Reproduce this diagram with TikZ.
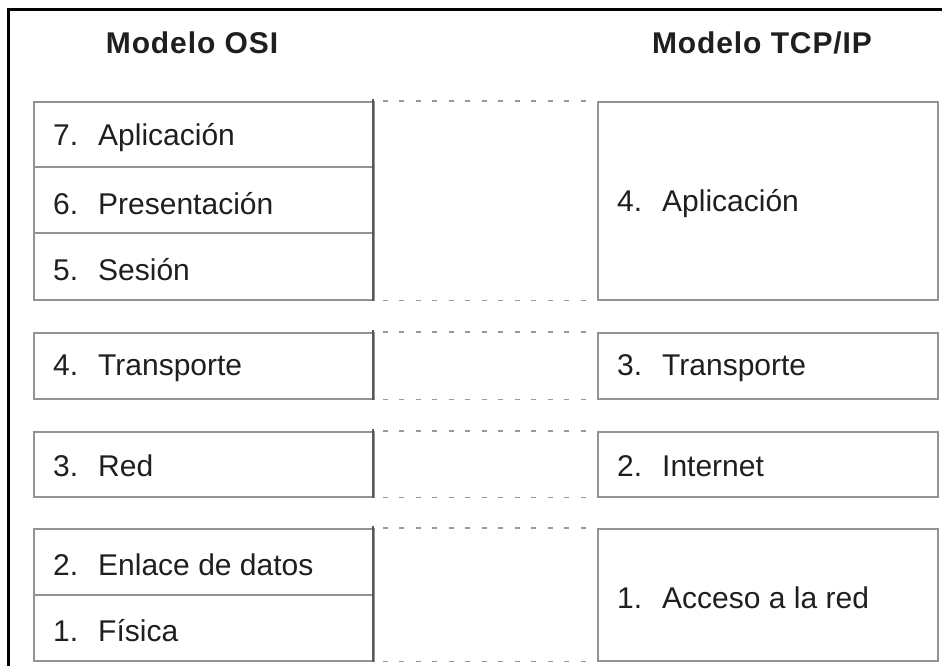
\documentclass[tikz,border=0pt]{standalone}
\usepackage{fontspec}
\setmainfont{Liberation Sans}
\begin{document}
\begin{tikzpicture}[x=1pt,y=-1pt,
  frame/.style={line width=3pt,black},
  layer/.style={draw=gray!85,line width=1.6pt,rectangle,anchor=north west,inner sep=0pt},
  edge/.style={draw=gray!70!black,line width=2pt},
  link/.style={draw=gray!80,line width=1.6pt,dash pattern=on 5pt off 11.5pt},
  lbl/.style={anchor=west,text=black!88,font=\fontsize{30}{34}\selectfont,inner sep=0pt,yshift=-3pt},
  title/.style={text=black!88,font=\fontsize{30}{34}\selectfont\bfseries\addfontfeature{LetterSpace=3},inner sep=0pt}]
\useasboundingbox (0,0) rectangle (942,666);
\fill[white] (0,0) rectangle (942,666);
% outer frame (left and top edges)
\draw[frame] (8,666) -- (8,10) -- (942,10);

% column titles
\node[title] (tosi) at (192,43) {Modelo OSI};
\node[title] (ttcp) at (762,43) {Modelo TCP/IP};

% OSI layers
\node[layer,minimum width=340pt,minimum height=198pt] (osiA) at (33,101) {};
\draw[draw=gray!85,line width=1.6pt] (33,167) -- (373,167) (33,233) -- (373,233);
\node[layer,minimum width=340pt,minimum height=66pt] (osiT) at (33,332) {};
\node[layer,minimum width=340pt,minimum height=65pt] (osiR) at (33,431) {};
\node[layer,minimum width=340pt,minimum height=132pt] (osiL) at (33,528) {};
\draw[draw=gray!85,line width=1.6pt] (33,595) -- (373,595);
\foreach \n/\a/\b in {osiA/99/301,osiT/330/400,osiR/429/498,osiL/526/662}
  \draw[edge] (373,\a) -- (373,\b);

% TCP/IP layers
\node[layer,minimum width=340pt,minimum height=198pt] (tcpA) at (597,101) {};
\node[layer,minimum width=340pt,minimum height=66pt] (tcpT) at (597,332) {};
\node[layer,minimum width=340pt,minimum height=65pt] (tcpI) at (597,431) {};
\node[layer,minimum width=340pt,minimum height=132pt] (tcpR) at (597,528) {};

% dotted correspondences between the two stacks
\foreach \l/\r in {osiA/tcpA,osiT/tcpT,osiR/tcpI,osiL/tcpR}{
  \draw[link] ([xshift=8pt]\l.north east) -- (\r.north west);
  \draw[link] ([xshift=8pt]\l.south east) -- (\r.south west);
}

% labels
\newcommand{\lay}[2]{#1\hspace{20pt}#2}
\node[lbl] (l7) at (53,135) {\lay{7.}{Aplicación}};
\node[lbl] (l6) at (53,201) {\lay{6.}{Presentación}};
\node[lbl] (l5) at (53,267) {\lay{5.}{Sesión}};
\node[lbl] (l4) at (53,365) {\lay{4.}{Transporte}};
\node[lbl] (l3) at (53,463) {\lay{3.}{Red}};
\node[lbl] (l2) at (53,562) {\lay{2.}{Enlace de datos}};
\node[lbl] (l1) at (53,628) {\lay{1.}{Física}};

\node[lbl] (r4) at (617,201) {\lay{4.}{Aplicación}};
\node[lbl] (r3) at (617,365) {\lay{3.}{Transporte}};
\node[lbl] (r2) at (617,463) {\lay{2.}{Internet}};
\node[lbl] (r1) at (617,595) {\lay{1.}{Acceso a la red}};
\end{tikzpicture}
\end{document}
